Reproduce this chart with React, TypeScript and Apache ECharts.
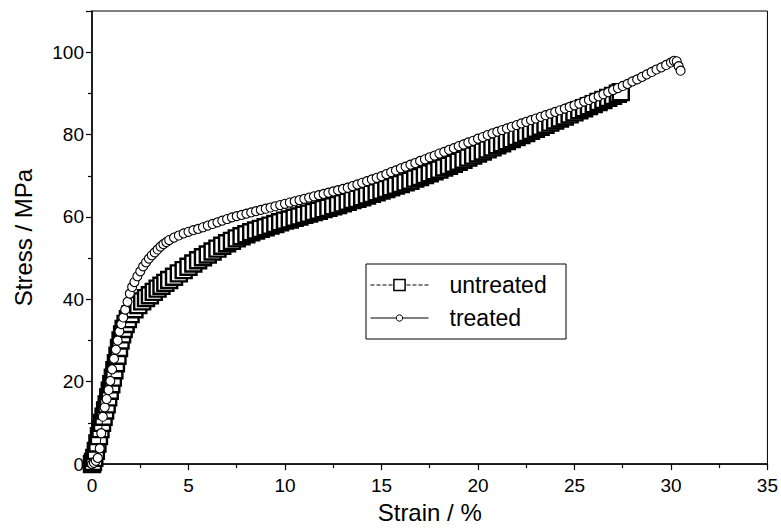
import React, { useEffect, useRef } from "react";
import * as echarts from "echarts";

// ---- data ----
const untreatedStrain = [
  0.0, 0.05, 0.12, 0.2, 0.28, 0.36, 0.44, 0.52, 0.6, 0.68, 0.76, 0.84, 0.92, 1.0, 1.08, 1.16, 1.24, 1.32, 1.4, 1.48,
  1.56, 1.64, 1.74, 1.86, 2.0, 2.2, 2.4, 2.6, 2.8, 3.0, 3.2, 3.4, 3.6, 3.8, 4.0, 4.25, 4.5, 4.75, 5.0, 5.25,
  5.5, 5.75, 6.0, 6.25, 6.5, 6.75, 7.0, 7.25, 7.5, 7.75, 8.0, 8.25, 8.5, 8.75, 9.0, 9.25, 9.5, 9.75, 10.0, 10.25,
  10.5, 10.75, 11.0, 11.25, 11.5, 11.75, 12.0, 12.25, 12.5, 12.75, 13.0, 13.25, 13.5, 13.75, 14.0, 14.25, 14.5, 14.75, 15.0, 15.25,
  15.5, 15.75, 16.0, 16.25, 16.5, 16.75, 17.0, 17.25, 17.5, 17.75, 18.0, 18.25, 18.5, 18.75, 19.0, 19.25, 19.5, 19.75, 20.0, 20.25,
  20.5, 20.75, 21.0, 21.25, 21.5, 21.75, 22.0, 22.25, 22.5, 22.75, 23.0, 23.25, 23.5, 23.75, 24.0, 24.25, 24.5, 24.75, 25.0, 25.25,
  25.5, 25.75, 26.0, 26.25, 26.5, 26.75, 27.0, 27.25, 27.4,
];
const untreatedStress = [
  0.0, 0.5, 1.5, 3.2, 5.0, 6.8, 8.5, 10.0, 11.5, 13.0, 14.5, 16.2, 17.8, 19.4, 21.0, 22.8, 24.5, 26.3, 28.2, 30.0,
  31.5, 32.8, 34.0, 35.2, 36.4, 37.6, 38.6, 39.5, 40.3, 41.0, 41.8, 42.6, 43.3, 44.0, 44.7, 45.5, 46.3, 47.1, 47.9, 48.7,
  49.5, 50.2, 50.9, 51.6, 52.3, 53.0, 53.6, 54.2, 54.8, 55.3, 55.8, 56.3, 56.7, 57.1, 57.5, 57.9, 58.3, 58.7, 59.1, 59.4,
  59.8, 60.1, 60.5, 60.8, 61.2, 61.5, 61.9, 62.2, 62.6, 62.9, 63.3, 63.7, 64.1, 64.4, 64.8, 65.2, 65.6, 66.0, 66.4, 66.8,
  67.2, 67.6, 68.0, 68.4, 68.8, 69.3, 69.7, 70.2, 70.6, 71.1, 71.5, 72.0, 72.4, 72.9, 73.4, 73.9, 74.4, 74.9, 75.4, 75.9,
  76.4, 76.9, 77.4, 77.9, 78.4, 78.9, 79.4, 79.9, 80.4, 80.9, 81.4, 81.9, 82.4, 82.9, 83.4, 83.9, 84.4, 84.9, 85.4, 85.9,
  86.4, 86.9, 87.4, 87.9, 88.4, 88.9, 89.4, 89.9, 90.3,
];

const treatedStrain = [
  0.0, 0.1, 0.2, 0.3, 0.4, 0.48, 0.56, 0.66, 0.76, 0.86, 0.95, 1.04, 1.14, 1.24, 1.33, 1.42, 1.52, 1.62, 1.72, 1.84,
  1.96, 2.08, 2.2, 2.35, 2.5, 2.65, 2.8, 2.95, 3.1, 3.25, 3.4, 3.55, 3.7, 3.85,
  4.0, 4.25, 4.5, 4.75, 5.0, 5.25, 5.5, 5.75, 6.0, 6.25, 6.5, 6.75, 7.0, 7.25, 7.5, 7.75, 8.0, 8.25, 8.5, 8.75,
  9.0, 9.25, 9.5, 9.75, 10.0, 10.25, 10.5, 10.75, 11.0, 11.25, 11.5, 11.75, 12.0, 12.25, 12.5, 12.75, 13.0, 13.25, 13.5, 13.75,
  14.0, 14.25, 14.5, 14.75, 15.0, 15.25, 15.5, 15.75, 16.0, 16.25, 16.5, 16.75, 17.0, 17.25, 17.5, 17.75, 18.0, 18.25, 18.5, 18.75,
  19.0, 19.25, 19.5, 19.75, 20.0, 20.25, 20.5, 20.75, 21.0, 21.25, 21.5, 21.75, 22.0, 22.25, 22.5, 22.75, 23.0, 23.25, 23.5, 23.75,
  24.0, 24.25, 24.5, 24.75, 25.0, 25.25, 25.5, 25.75, 26.0, 26.25, 26.5, 26.75, 27.0, 27.25, 27.5, 27.75, 28.0, 28.25, 28.5, 28.75,
  29.0, 29.25, 29.5, 29.75, 30.0, 30.15, 30.3, 30.4, 30.5,
];
const treatedStress = [
  0.0, 0.3, 0.8, 1.5, 3.8, 7.5, 11.5, 13.8, 15.8, 18.0, 20.2, 23.0, 25.6, 27.8, 30.0, 32.2, 34.0, 35.6, 37.5, 39.4,
  41.4, 43.0, 44.2, 45.6, 46.8, 48.0, 49.0, 49.9, 50.7, 51.4, 52.1, 52.8, 53.4, 53.9,
  54.4, 55.0, 55.5, 56.0, 56.4, 56.8, 57.1, 57.5, 57.9, 58.3, 58.7, 59.1, 59.5, 59.9, 60.2, 60.5, 60.8, 61.1, 61.4, 61.7,
  62.0, 62.3, 62.6, 62.9, 63.2, 63.5, 63.8, 64.1, 64.4, 64.7, 65.0, 65.3, 65.6, 65.9, 66.2, 66.5, 66.8, 67.1, 67.5, 67.9,
  68.3, 68.7, 69.1, 69.5, 69.9, 70.4, 70.9, 71.3, 71.8, 72.2, 72.7, 73.1, 73.6, 74.0, 74.5, 74.9, 75.4, 75.8, 76.3, 76.7,
  77.2, 77.6, 78.1, 78.5, 79.0, 79.4, 79.9, 80.3, 80.7, 81.1, 81.5, 81.9, 82.3, 82.7, 83.1, 83.5, 83.9, 84.3, 84.7, 85.1,
  85.5, 85.9, 86.3, 86.7, 87.1, 87.5, 88.0, 88.4, 88.9, 89.3, 89.8, 90.3, 90.8, 91.3, 91.8, 92.3, 92.9, 93.4, 94.0, 94.6,
  95.2, 95.8, 96.3, 96.9, 97.5, 97.9, 97.8, 96.6, 95.5,
];

const seriesNames = ["untreated", "treated"];
const xAxisTitle = "Strain / %";
const yAxisTitle = "Stress / MPa";

const FONT = "Liberation Sans, Arial, Helvetica, sans-serif";

export default function App() {
  const ref = useRef<HTMLDivElement>(null);

  useEffect(() => {
    document.body.style.margin = "0";
    if (!ref.current) return;
    const chart = echarts.init(ref.current, undefined, { renderer: "svg" });

    const untreatedData = untreatedStrain.map((x, i) => [x, untreatedStress[i]]);
    const treatedData = treatedStrain.map((x, i) => [x, treatedStress[i]]);

    const legendCommon = {
      orient: "vertical",
      left: 370,
      itemWidth: 58,
      padding: 0,
      textStyle: {
        fontFamily: FONT,
        fontSize: 23,
        color: "#000",
        lineHeight: 24,
        padding: [0, 0, 0, 16],
      },
      lineStyle: { width: 1 },
      selectedMode: false,
    };

    chart.setOption({
      animation: false,
      backgroundColor: "#fff",
      grid: {
        left: 92,
        right: 12,
        top: 11,
        bottom: 56,
        show: true,
        borderColor: "#000",
        borderWidth: 1,
        backgroundColor: "transparent",
      },
      xAxis: {
        type: "value",
        min: 0,
        max: 35,
        interval: 5,
        name: xAxisTitle,
        nameLocation: "middle",
        nameGap: 31,
        nameTextStyle: { fontFamily: FONT, fontSize: 24, color: "#000" },
        axisLine: { show: true, onZero: false, lineStyle: { color: "#000", width: 1.5 } },
        axisTick: { show: true, length: 6, lineStyle: { color: "#000", width: 1.2 } },
        minorTick: { show: true, splitNumber: 2, length: 4, lineStyle: { color: "#000", width: 1.2 } },
        splitLine: { show: false },
        axisLabel: { fontFamily: FONT, fontSize: 19, color: "#000", margin: 12 },
      },
      yAxis: {
        type: "value",
        min: 0,
        max: 110,
        interval: 20,
        name: yAxisTitle,
        nameLocation: "middle",
        nameGap: 57,
        nameTextStyle: { fontFamily: FONT, fontSize: 24, color: "#000" },
        axisLine: { show: true, onZero: false, lineStyle: { color: "#000", width: 1.5 } },
        axisTick: { show: true, length: 6, lineStyle: { color: "#000", width: 1.2 } },
        minorTick: { show: true, splitNumber: 2, length: 4, lineStyle: { color: "#000", width: 1.2 } },
        splitLine: { show: false },
        axisLabel: { fontFamily: FONT, fontSize: 19, color: "#000", margin: 8, showMaxLabel: false },
      },
      legend: [
        {
          ...legendCommon,
          top: 273,
          itemHeight: 14,
          data: [seriesNames[0]],
          itemStyle: { borderWidth: 1.5 },
        },
        {
          ...legendCommon,
          top: 306,
          itemHeight: 8,
          data: [seriesNames[1]],
          itemStyle: { borderWidth: 1 },
        },
      ],
      graphic: [
        {
          type: "rect",
          shape: { x: 366, y: 264, width: 200, height: 75 },
          style: { fill: "none", stroke: "#000", lineWidth: 1 },
          z: 100,
        },
      ],
      series: [
        {
          name: seriesNames[0],
          type: "line",
          data: untreatedData,
          symbol: "rect",
          symbolSize: 16,
          showAllSymbol: true,
          itemStyle: { color: "#fff", borderColor: "#000", borderWidth: 2.4 },
          lineStyle: { color: "#000", width: 1, type: "dashed" },
          z: 2,
        },
        {
          name: seriesNames[1],
          type: "line",
          data: treatedData,
          symbol: "circle",
          symbolSize: 9,
          showAllSymbol: true,
          itemStyle: { color: "#fff", borderColor: "#000", borderWidth: 1.1 },
          lineStyle: { color: "#000", width: 1 },
          z: 3,
        },
      ],
    });

    return () => chart.dispose();
  }, []);

  return <div ref={ref} style={{ width: 781, height: 529 }} />;
}
